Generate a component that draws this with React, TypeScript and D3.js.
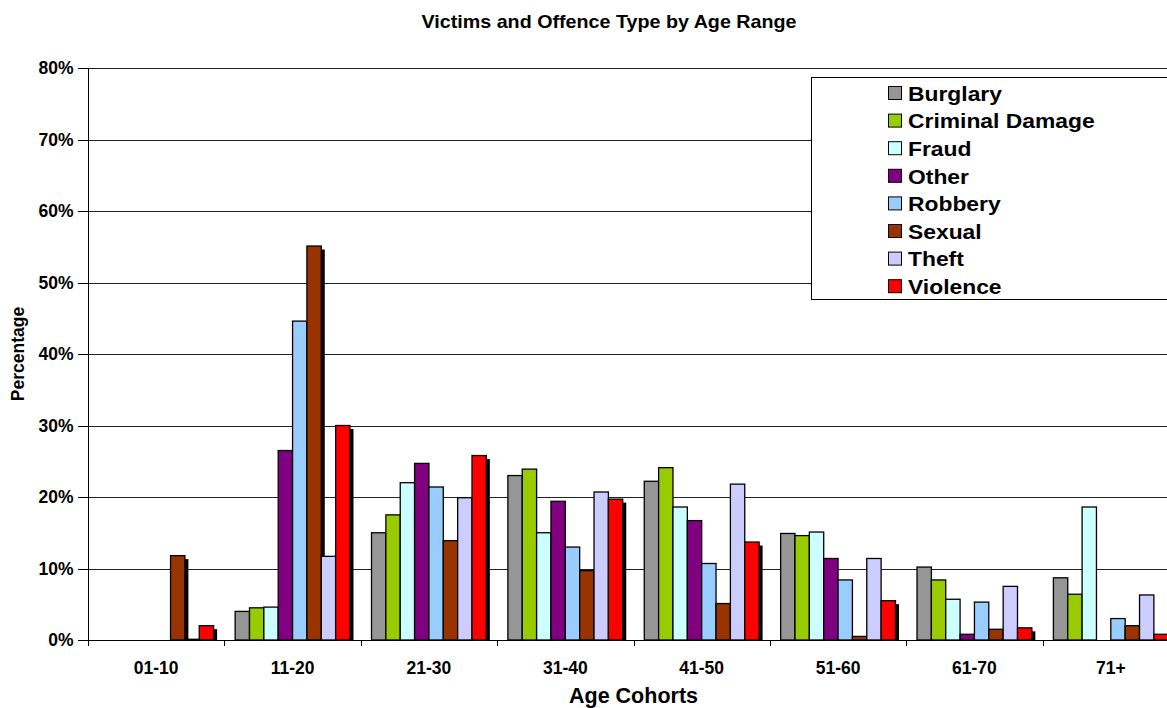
import React from "react";
import * as d3 from "d3";

// Age cohorts along the x axis
const categories = ["01-10", "11-20", "21-30", "31-40", "41-50", "51-60", "61-70", "71+"];

// Percentage of victims per offence type, one value per cohort
const burglary = [0, 4.0, 15.0, 23.0, 22.2, 14.9, 10.2, 8.7];
const criminalDamage = [0, 4.5, 17.5, 23.9, 24.1, 14.6, 8.4, 6.4];
const fraud = [0, 4.6, 22.0, 15.0, 18.6, 15.1, 5.7, 18.6];
const other = [0, 26.5, 24.7, 19.4, 16.7, 11.4, 0.8, 0];
const robbery = [0, 44.6, 21.4, 13.0, 10.7, 8.4, 5.3, 3.0];
const sexual = [11.8, 55.1, 13.9, 9.7, 5.1, 0.5, 1.5, 2.0];
const theft = [0.1, 11.7, 19.9, 20.7, 21.8, 11.4, 7.5, 6.3];
const violence = [2.0, 30.0, 25.8, 19.7, 13.7, 5.5, 1.7, 0.8];

const seriesNames = ["Burglary", "Criminal Damage", "Fraud", "Other", "Robbery", "Sexual", "Theft", "Violence"];
const seriesValues = [burglary, criminalDamage, fraud, other, robbery, sexual, theft, violence];
const seriesColors = ["#969696", "#99CC00", "#CCFFFF", "#800080", "#99CCFF", "#993300", "#CCCCFF", "#FF0000"];
const shadowedSeries = ["Sexual", "Violence"];

const yTicks = [0, 10, 20, 30, 40, 50, 60, 70, 80];

const W = 1167;
const H = 708;
const plot = { left: 88, right: 1179, top: 68, bottom: 640 };
const FONT = "'Liberation Sans', Arial, sans-serif";

export default function App() {
  const x0 = d3.scaleBand<string>().domain(categories).range([plot.left, plot.right]).paddingInner(0).paddingOuter(0);
  const x1 = d3.scaleBand<string>().domain(seriesNames).range([0, x0.bandwidth()]).paddingInner(0).paddingOuter(0.75);
  const y = d3.scaleLinear().domain([0, 80]).range([plot.bottom, plot.top]);

  const shadowOffset = 3.5;

  return (
    <div style={{ position: "absolute", left: 0, top: 0, width: W, height: H, background: "#fff" }}>
      <svg width={W} height={H} style={{ display: "block", fontFamily: FONT }}>
        <defs>
          <clipPath id="plotClip">
            <rect x={plot.left} y={0} width={plot.right - plot.left + 10} height={plot.bottom} />
          </clipPath>
        </defs>
        <rect x={0} y={0} width={W} height={H} fill="#fff" />

        {/* title */}
        <text x={609} y={27.5} textAnchor="middle" fontSize={19} fontWeight="bold" fill="#000" textLength={375} lengthAdjust="spacingAndGlyphs">
          Victims and Offence Type by Age Range
        </text>

        {/* horizontal gridlines */}
        {yTicks.filter((t) => t > 0).map((t) => (
          <line key={"g" + t} x1={plot.left} x2={plot.right} y1={Math.round(y(t)) + 0.5} y2={Math.round(y(t)) + 0.5} stroke="#222" strokeWidth={1} />
        ))}

        {/* bars, series by series so later bars cover earlier shadows */}
        {seriesNames.map((name, si) => (
          <g key={name}>
            {shadowedSeries.includes(name) && (
              <g clipPath="url(#plotClip)">
                {seriesValues[si].map((v, ci) =>
                  v > 0 ? (
                    <rect
                      key={"s" + ci}
                      x={(x0(categories[ci]) as number) + (x1(name) as number) + shadowOffset}
                      y={y(v) + shadowOffset}
                      width={x1.bandwidth()}
                      height={plot.bottom - y(v)}
                      fill="#000"
                    />
                  ) : null
                )}
              </g>
            )}
            {seriesValues[si].map((v, ci) =>
              v > 0 ? (
                <rect
                  key={"b" + ci}
                  x={(x0(categories[ci]) as number) + (x1(name) as number)}
                  y={y(v)}
                  width={x1.bandwidth()}
                  height={plot.bottom - y(v)}
                  fill={seriesColors[si]}
                  stroke="#000"
                  strokeWidth={1.3}
                />
              ) : null
            )}
          </g>
        ))}

        {/* y axis */}
        <line x1={plot.left + 0.5} x2={plot.left + 0.5} y1={plot.top} y2={plot.bottom} stroke="#000" strokeWidth={1} />
        {yTicks.map((t) => (
          <g key={"yt" + t}>
            <line x1={plot.left - 10} x2={plot.left} y1={Math.round(y(t)) + 0.5} y2={Math.round(y(t)) + 0.5} stroke="#000" strokeWidth={1} />
            <text x={73.5} y={y(t)} dy="0.35em" textAnchor="end" fontSize={17.5} fontWeight="bold" fill="#000">
              {t + "%"}
            </text>
          </g>
        ))}
        <text
          transform={`translate(24, ${(plot.top + plot.bottom) / 2}) rotate(-90)`}
          textAnchor="middle"
          fontSize={17.5}
          fontWeight="bold"
          fill="#000"
        >
          Percentage
        </text>

        {/* x axis */}
        <line x1={plot.left} x2={plot.right} y1={plot.bottom + 0.5} y2={plot.bottom + 0.5} stroke="#000" strokeWidth={1} />
        {categories.map((c) => (
          <line key={"xt" + c} x1={Math.round(x0(c) as number) + 0.5} x2={Math.round(x0(c) as number) + 0.5} y1={plot.bottom} y2={plot.bottom + 6} stroke="#000" strokeWidth={1} />
        ))}
        {categories.map((c) => (
          <text key={"xl" + c} x={(x0(c) as number) + x0.bandwidth() / 2} y={668} dy="0.35em" textAnchor="middle" fontSize={17.5} fontWeight="bold" fill="#000">
            {c}
          </text>
        ))}
        <text x={(plot.left + plot.right) / 2} y={703} textAnchor="middle" fontSize={21.5} fontWeight="bold" fill="#000">
          Age Cohorts
        </text>

        {/* legend */}
        <rect x={811.5} y={77.5} width={400} height={222} fill="#fff" stroke="#000" strokeWidth={1} />
        {seriesNames.map((name, i) => (
          <g key={"lg" + name}>
            <rect x={888.5} y={86.5 + i * 27.6} width={13} height={13} fill={seriesColors[i]} stroke="#000" strokeWidth={1} />
            <text transform={`translate(908, ${100.7 + i * 27.6}) scale(1.115, 1)`} fontSize={20.5} fontWeight="bold" fill="#000">
              {name}
            </text>
          </g>
        ))}
      </svg>
    </div>
  );
}
